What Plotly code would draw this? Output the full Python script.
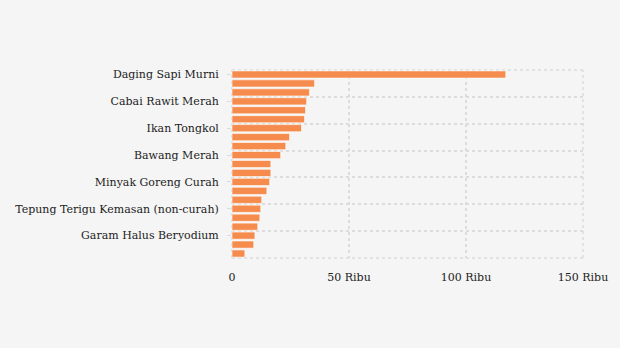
import plotly.graph_objects as go

# 21 bars top->bottom; only every 3rd label is shown in the reference
positions = list(range(21))
values = [117000, 35300, 33100, 31900, 31400, 31000, 29700, 24600, 23000, 20800,
          16600, 16600, 16100, 14900, 12700, 12300, 11900, 11000, 9800, 9300, 5500]
label_pos = [0, 3, 6, 9, 12, 15, 18]
label_text = ["Daging Sapi Murni", "Cabai Rawit Merah", "Ikan Tongkol", "Bawang Merah",
              "Minyak Goreng Curah", "Tepung Terigu Kemasan (non-curah)", "Garam Halus Beryodium"]
x_ticks = [0, 50000, 100000, 150000]
x_text = ["0", "50 Ribu", "100 Ribu", "150 Ribu"]

fig = go.Figure(go.Bar(
    x=values, y=positions, orientation="h", width=0.8,
    marker=dict(color="#F58B4C", line=dict(color="rgba(255,255,255,0.6)", width=1)),
    hoverinfo="x",
))

grid = "#DCDCDC"
edge = dict(color=grid, width=1.5, dash="dot")
for x0, y0, x1, y1 in [(0, 0, 1, 0), (0, 1, 1, 1), (0, 0, 0, 1), (1, 0, 1, 1)]:
    fig.add_shape(type="line", xref="paper", yref="paper", x0=x0, y0=y0, x1=x1, y1=y1,
                  line=edge, layer="below")

fig.update_layout(
    width=620, height=348,
    margin=dict(l=232, r=35, t=70, b=90),
    paper_bgcolor="#F5F5F5", plot_bgcolor="#F5F5F5",
    font=dict(family="'DejaVu Serif', serif", size=11, color="#222"),
    showlegend=False,
    xaxis=dict(range=[0, 150000], tickvals=x_ticks, ticktext=x_text,
               showgrid=True, gridcolor=grid, griddash="dot", gridwidth=1.5,
               zeroline=False, showline=False, ticks="", ticklabelstandoff=11),
    yaxis=dict(range=[20.5, -0.5], tickvals=label_pos, ticktext=label_text,
               showgrid=False, zeroline=False, showline=False,
               ticks="outside", ticklen=4, tickcolor=grid, ticklabelstandoff=6,
               minor=dict(tickvals=[-0.5 + 3 * i for i in range(8)], showgrid=True,
                          gridcolor=grid, griddash="dot", gridwidth=1.5, ticks="")),
)
fig.write_html("out.html")
